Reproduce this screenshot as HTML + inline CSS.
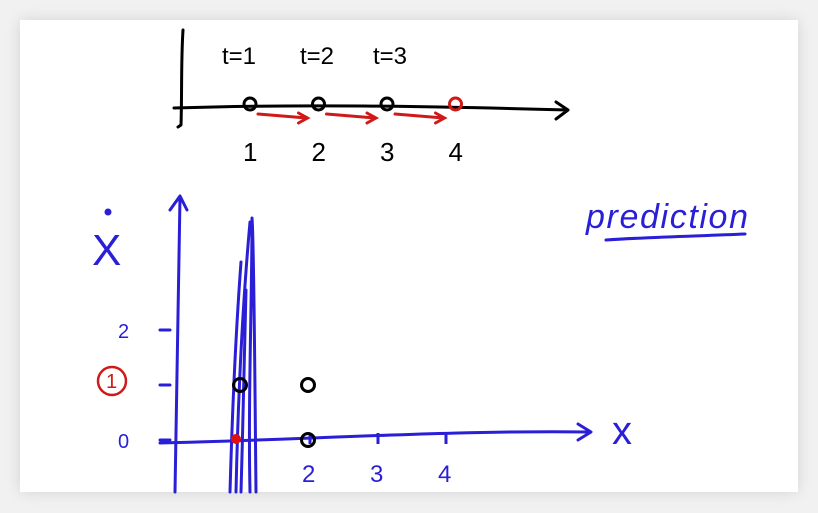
<!DOCTYPE html>
<html><head><meta charset="utf-8"><style>
html,body{margin:0;padding:0;background:#f1f1f1;}
#wrap{position:relative;width:818px;height:513px;overflow:hidden;background:#f1f1f1;}
#card{position:absolute;left:20px;top:20px;width:778px;height:472px;background:#fff;box-shadow:0 0 14px rgba(0,0,0,0.12);}
svg{position:absolute;left:0;top:0;}
text{font-family:"Liberation Sans",sans-serif;}
</style></head><body>
<div id="wrap">
<div id="card"></div>
<svg id="s" width="818" height="513">
 <g fill="none" stroke-linecap="round" stroke-linejoin="round">
  <path d="M183 30 C181 60 182 95 181 125 L178 127" stroke="#000" stroke-width="3"/>
  <path d="M174 108 C300 104 420 106 568 110 M556 102 L568 110 L556 119" stroke="#000" stroke-width="3"/>
  <path d="M175 492 C176 400 178 300 180 197 M170 210 L180 196 L187 210" stroke="#2a1fd6" stroke-width="3"/>
  <path d="M160 443 C300 440 450 430 590 432 M578 424 L591 432 L578 440" stroke="#2a1fd6" stroke-width="3"/>
  <path d="M230 492 C232 420 236 330 241 262 M236 492 C238 400 243 300 250 222 M250 492 C248 400 252 300 252 218 C254 240 255 400 256 492 M241 492 C243 420 245 340 246 290" stroke="#2a1fd6" stroke-width="3"/>
  <path d="M606 240 C650 237 700 236 745 234" stroke="#2a1fd6" stroke-width="3"/>
  <circle cx="112" cy="381" r="14" stroke="#d01a1a" stroke-width="2.5"/>
 </g>
 <g id="topg"></g>
 <g id="plot"></g>
 <g font-size="24" fill="#000">
  <text x="222" y="64">t=1</text>
  <text x="300" y="64">t=2</text>
  <text x="373" y="64">t=3</text>
 </g>
 <g fill="#2a1fd6">
  <text x="92" y="265" font-size="44">X</text>
  <circle cx="108" cy="212" r="3.5"/>
  <text x="612" y="444" font-size="40">x</text>
  <text x="586" y="228" font-size="34" font-style="italic" textLength="162">prediction</text>
 </g>
 <text x="106" y="388" font-size="20" fill="#d01a1a">1</text>
</svg>
</div>
<script>
const NS="http://www.w3.org/2000/svg";
const topSteps=[1,2,3,4];
const topLabels=["1","2","3","4"];
const yTicks=[0,1,2];
const xTicks=[2,3,4];
const blackPts=[[1,1],[2,1],[2,0]];
const redPts=[[1,0]];
function tx(v){return 250+(v-1)*68.5;}
function px(v){return 240+(v-1)*68;}
function py(v){return 440-v*55;}
function mk(tag,attrs,parent){const e=document.createElementNS(NS,tag);for(const k in attrs)e.setAttribute(k,attrs[k]);parent.appendChild(e);return e;}
const topG=document.getElementById('topg'),plot=document.getElementById('plot');
topSteps.forEach((s,i)=>{
 const c=mk('circle',{cx:tx(s),cy:104,r:6,fill:'none',stroke:i===3?'#d01a1a':'#000','stroke-width':3},topG);
 
 
 const t=mk('text',{x:tx(s)-7,y:161,'font-size':26,fill:'#000'},topG);t.textContent=topLabels[i];
 
 
 if(i<3){
  const a=mk('path',{d:`M${tx(s)+8} 114 L${tx(topSteps[i+1])-12} 118 M${tx(topSteps[i+1])-20} 113 L${tx(topSteps[i+1])-11} 118 L${tx(topSteps[i+1])-20} 123`,stroke:'#d01a1a','stroke-width':3,fill:'none','stroke-linecap':'round'},topG);
  
  
 }
});
yTicks.forEach(v=>{
 const l=mk('line',{x1:160,x2:170,y1:py(v),y2:py(v),stroke:'#2a1fd6','stroke-width':3,'stroke-linecap':'round'},plot);
 
 
 if(v!==1){const t=mk('text',{x:118,y:py(v)+8,'font-size':20,fill:'#2a1fd6'},plot);t.textContent=String(v);
 
 }
});
xTicks.forEach(v=>{
 const l=mk('line',{x1:px(v)+2,x2:px(v)+2,y1:433,y2:444,stroke:'#2a1fd6','stroke-width':3},plot);
 
 
 const t=mk('text',{x:px(v)-6,y:482,'font-size':24,fill:'#2a1fd6'},plot);t.textContent=String(v);
 
 
});
blackPts.forEach(p=>{
 const c=mk('circle',{cx:px(p[0]),cy:py(p[1]),r:6.5,fill:'none',stroke:'#000','stroke-width':3},plot);
 
 
});
redPts.forEach(p=>{
 const c=mk('circle',{cx:px(p[0])-4,cy:py(p[1])-1,r:5,fill:'#e01010'},plot);
 
 
});
</script>
</body></html>
